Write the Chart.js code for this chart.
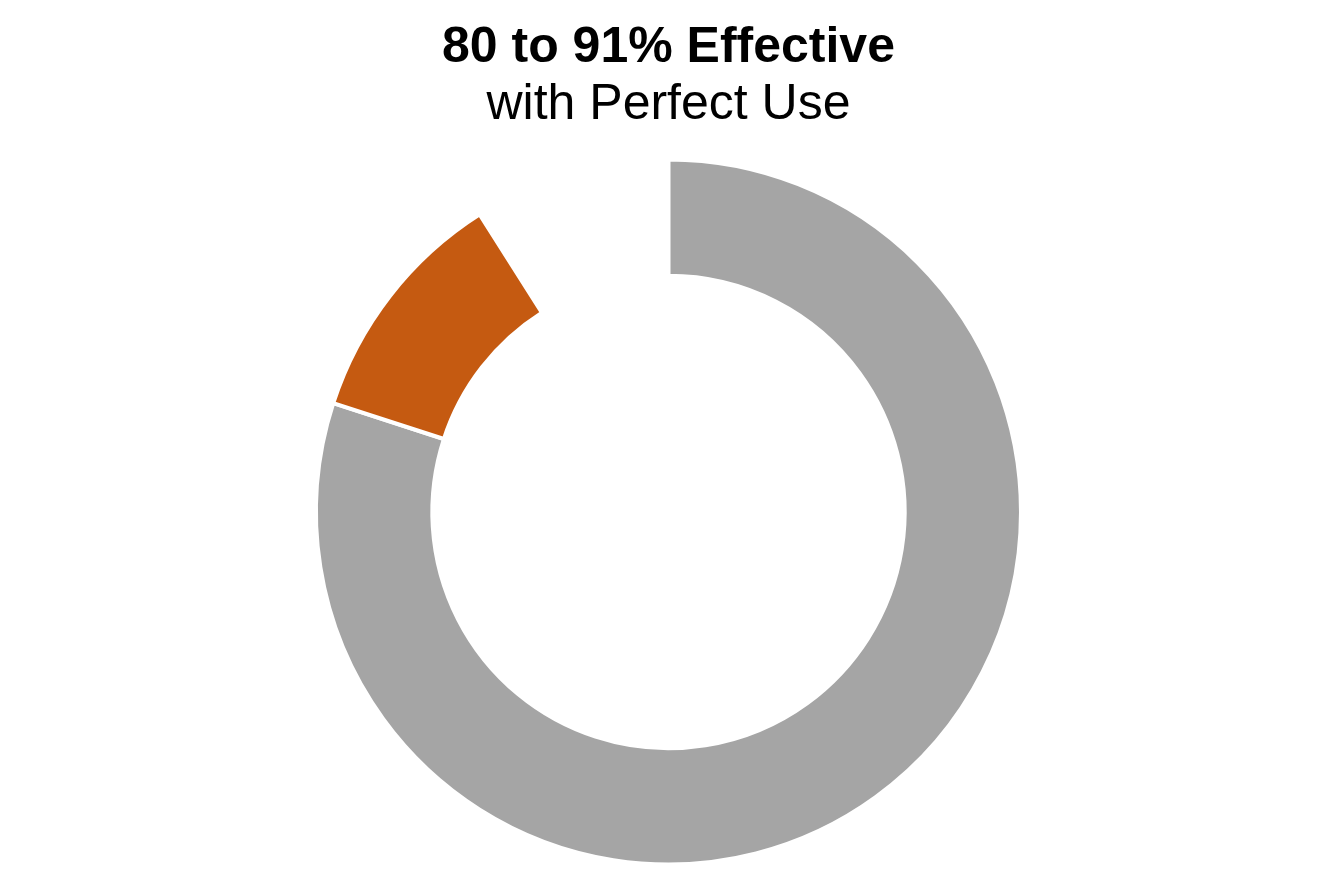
<!DOCTYPE html>
<html>
<head>
<meta charset="utf-8">
<script src="https://cdn.jsdelivr.net/npm/chart.js@4"></script>
<style>
  html, body { margin: 0; padding: 0; background: #ffffff; }
  #wrap { width: 1337px; height: 891px; position: relative; }
</style>
</head>
<body>
<div id="wrap"><canvas id="c"></canvas></div>
<script>
const categories = ['Effective (minimum)', 'Effective range', 'Not effective'];
const seriesValues = [80, 11, 9];
const sliceColors = ['#A5A5A5', '#C55A11', 'rgba(0,0,0,0)'];
const titleText = '80 to 91% Effective';
const subtitleText = 'with Perfect Use';

const FONT = '"Liberation Sans", Arial, Helvetica, sans-serif';

new Chart(document.getElementById('c'), {
  type: 'doughnut',
  data: {
    labels: categories,
    datasets: [{
      data: seriesValues,
      backgroundColor: sliceColors,
      borderColor: '#ffffff',
      borderWidth: [4, 4, 0],
      hoverOffset: 0
    }]
  },
  options: {
    responsive: true,
    maintainAspectRatio: false,
    animation: false,
    events: [],
    cutout: '67%',
    rotation: 0,
    layout: { padding: { top: 0, bottom: 24.5, left: 0, right: 0 } },
    plugins: {
      legend: { display: false },
      tooltip: { enabled: false },
      title: {
        display: true,
        text: titleText,
        color: '#000000',
        font: { family: FONT, size: 50, weight: 'bold', lineHeight: 1.14 },
        padding: { top: 20, bottom: 0 }
      },
      subtitle: {
        display: true,
        text: subtitleText,
        color: '#000000',
        font: { family: FONT, size: 50, weight: 'normal', lineHeight: 1.14 },
        padding: { top: 0, bottom: 23.5 }
      }
    }
  }
});
</script>
</body>
</html>
